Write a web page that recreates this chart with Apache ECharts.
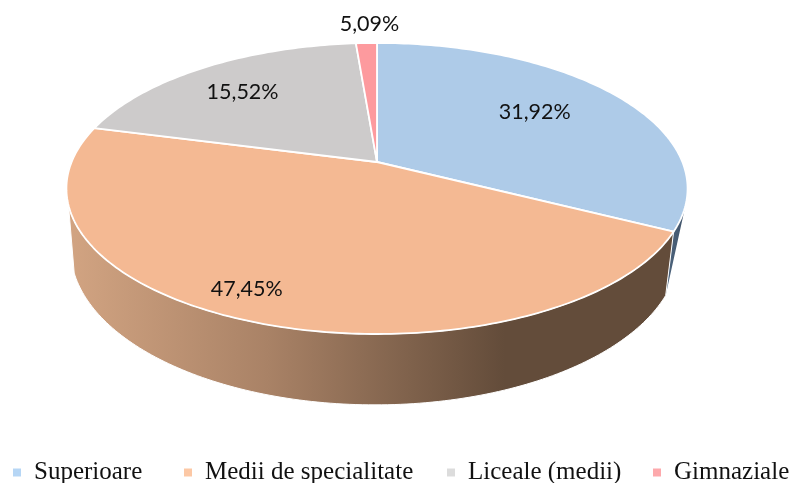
<!DOCTYPE html>
<html>
<head>
<meta charset="utf-8">
<style>html,body{margin:0;padding:0;background:#fff}#c{width:790px;height:483px}</style>
<script src="https://cdn.jsdelivr.net/npm/echarts@6/dist/echarts.min.js"></script>
</head>
<body>
<div id="c"></div>
<script>
// Category names
const categories = ['Superioare', 'Medii de specialitate', 'Liceale (medii)', 'Gimnaziale'];
// Slice sizes as they are drawn in the picture (percent of the full turn)
const drawnShares = [32.5, 46.56, 19.64, 1.3];
// Labels as printed on the picture (they do not all equal the drawn sizes)
const printedLabels = ['31,92%', '47,45%', '15,52%', '5,09%'];

const topColors = ['#AECBE8', '#F4B993', '#CDCBCB', '#FD9A9E'];
const legendColors = ['#B6D6F5', '#FCC8A5', '#DCDCDC', '#FDA9AC'];
const legendLeft = [13, 184, 447, 653];

// Perspective disc: maps the unit circle to the tilted pie
const view = {cx: 377, apexY: 162, b: 305.4, a: 140.7, k: 0.182};
const floor = {dx: -2, y: 221, sx: 0.98, sy: 1.069};
function rim(deg, r, base) {
  const t = deg * Math.PI / 180, u = r * Math.sin(t), v = -r * Math.cos(t), w = 1 - view.k * v;
  const sx = base ? floor.sx : 1, sy = base ? floor.sy : 1, y0 = base ? floor.y : view.apexY;
  return [view.cx + (base ? floor.dx : 0) + sx * view.b * u / w, y0 + sy * view.a * v / w];
}
function arc(from, to, base) {
  const pts = [], n = Math.max(2, Math.ceil(Math.abs(to - from)));
  for (let i = 0; i <= n; i++) pts.push(rim(from + (to - from) * i / n, 1, base));
  return pts;
}
const total = drawnShares.reduce((s, x) => s + x, 0);
const bounds = [];
drawnShares.reduce((acc, x) => { const e = acc + x; bounds.push([acc / total * 360, e / total * 360]); return e; }, 0);

// Label placement along each slice
const labelRadius = [0.67, 0.86, 0.73, 1.19];
const labelNudge = [-3, 4.4, -1.5, 0.9];

const LG = (c) => new echarts.graphic.LinearGradient(0, 0, 1, 0, c);
const blueWall = LG([{offset: 0, color: '#4f667f'}, {offset: 1, color: '#3f5268'}]);
const orangeWall = LG([{offset: 0, color: '#d2a482'}, {offset: 0.33, color: '#a98266'}, {offset: 0.72, color: '#634c3a'}, {offset: 1, color: '#634c3a'}]);

const series = [];
// side walls first (only the slices facing the viewer have one)
series.push({
  type: 'custom', name: 'wall ' + categories[0], coordinateSystem: 'none', silent: true, animation: false, clip: false,
  data: [drawnShares[0]],
  renderItem() {
    const end = bounds[0][1];
    const pts = arc(106, end, false).concat([rim(end, 1, true)]);
    return {type: 'polygon', shape: {points: pts}, style: {fill: blueWall}};
  }
});
series.push({
  type: 'custom', name: 'wall ' + categories[1], coordinateSystem: 'none', silent: true, animation: false, clip: false,
  data: [drawnShares[1]],
  renderItem() {
    const from = bounds[1][0];
    const pts = arc(from, 253, false).concat(arc(251, from, true));
    return {type: 'polygon', shape: {points: pts}, style: {fill: orangeWall, stroke: '#fff', lineWidth: 1, lineJoin: 'round'}};
  }
});
// top faces
categories.forEach((name, idx) => {
  series.push({
    type: 'custom', name, coordinateSystem: 'none', silent: true, animation: false, clip: false,
    itemStyle: {color: topColors[idx]},
    data: [drawnShares[idx]],
    renderItem() {
      const pts = [rim(0, 0, false)].concat(arc(bounds[idx][0], bounds[idx][1], false));
      return {type: 'polygon', shape: {points: pts},
        style: {fill: topColors[idx], stroke: '#fff', lineWidth: 1.8, lineJoin: 'round'}};
    }
  });
});
// labels on top of every face
series.push({
  type: 'custom', name: 'labels', coordinateSystem: 'none', silent: true, animation: false, clip: false, z: 5,
  data: printedLabels,
  renderItem(params) {
    const i = params.dataIndex;
    const mid = (bounds[i][0] + bounds[i][1]) / 2 + labelNudge[i];
    const p = rim(mid, labelRadius[i], false);
    return {type: 'text', x: p[0], y: p[1],
      style: {text: printedLabels[i], fill: '#111', font: '21.5px Lato', align: 'center', verticalAlign: 'middle'}};
  }
});

const chart = echarts.init(document.getElementById('c'), null, {renderer: 'canvas'});
chart.setOption({
  backgroundColor: '#fff',
  animation: false,
  legend: categories.map((name, i) => ({
    show: true, data: [{name, icon: 'rect', itemStyle: {color: legendColors[i]}}],
    left: legendLeft[i], top: 460, padding: 0, itemWidth: 8, itemHeight: 8, selectedMode: false,
    textStyle: {fontFamily: 'Liberation Serif', fontSize: 25, color: '#111', padding: [0, 0, 0, 8]}
  })),
  series
});
</script>
</body>
</html>
